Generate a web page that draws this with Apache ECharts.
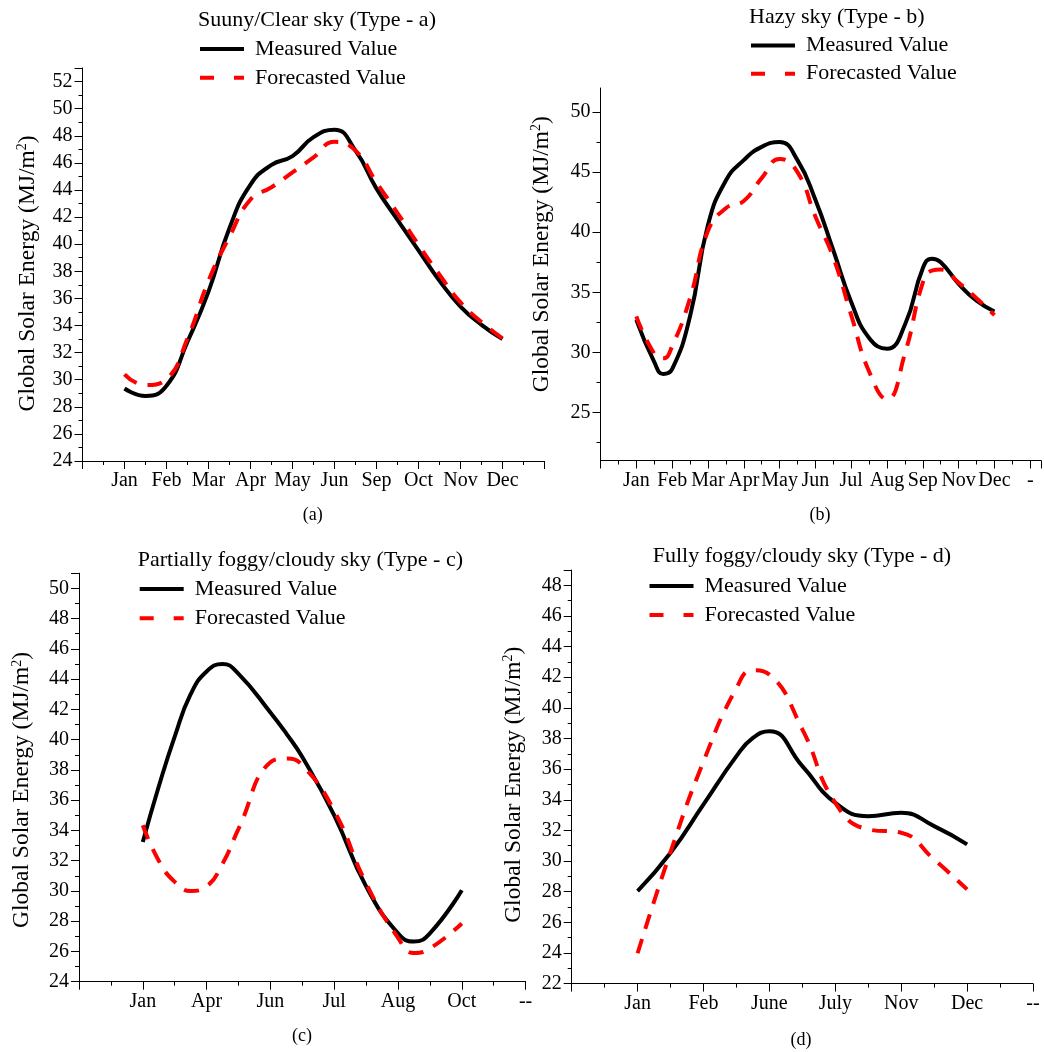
<!DOCTYPE html>
<html>
<head>
<meta charset="utf-8">
<script src="https://cdn.jsdelivr.net/npm/echarts@6/dist/echarts.min.js"></script>
<style>html,body{margin:0;padding:0;background:#fff}#chart{width:1044px;height:1052px}</style>
</head>
<body>
<div id="chart"></div>
<script>
// ---- (a) Sunny / clear sky ----
const ticksA = ['', 'Jan', 'Feb', 'Mar', 'Apr', 'May', 'Jun', 'Sep', 'Oct', 'Nov', 'Dec'];
const posA = [1, 1.5, 2, 2.5, 3, 3.5, 4, 4.5, 5, 5.5, 6, 6.5, 7, 7.5, 8, 8.5, 9, 9.5, 10];
const measuredA = [29.35, 28.8, 29.55, 32.8, 36.5, 41.2, 44.4, 45.85, 46.5, 47.9, 48.45, 46.9, 44.1, 41.8, 39.55, 37.3, 35.4, 34.05, 33.0];
const forecastA = [30.4, 29.6, 30.05, 33.05, 37.3, 40.55, 43.3, 44.2, 45.3, 46.4, 47.55, 46.9, 44.55, 42.3, 39.95, 37.75, 35.7, 34.25, 33.05];

// ---- (b) Hazy sky ----
const ticksB = ['', 'Jan', 'Feb', 'Mar', 'Apr', 'May', 'Jun', 'Jul', 'Aug', 'Sep', 'Nov', 'Dec', '-'];
const posB = [1, 1.5, 1.75, 2, 2.5, 3, 3.5, 4, 4.5, 5, 5.5, 6, 6.5, 7, 7.5, 8, 8.5, 9, 9.25, 9.5, 10, 10.5, 11];
const measuredB = [32.7, 29.2, 28.2, 28.6, 33.0, 40.6, 44.3, 46.0, 47.1, 47.5, 46.0, 42.7, 38.5, 34.2, 31.2, 30.3, 32.3, 37.0, 37.8, 37.5, 35.7, 34.3, 33.4];
const forecastB = [33.0, 29.9, 29.5, 30.5, 34.5, 40.1, 42.0, 42.6, 44.5, 46.1, 45.0, 41.3, 37.9, 33.1, 28.4, 26.1, 29.9, 35.8, 36.8, 36.9, 35.8, 34.5, 33.1];
const yLabelsB = [25, 30, 35, 40, 45, 50];
const yMinorB = [22.5, 27.5, 32.5, 37.5, 42.5, 47.5];

// ---- (c) Partially foggy / cloudy sky ----
const ticksC = ['', 'Jan', 'Apr', 'Jun', 'Jul', 'Aug', 'Oct', '--'];
const posC = [1, 1.25, 1.5, 1.75, 2, 2.25, 2.5, 3, 3.25, 3.5, 4, 4.5, 5, 5.25, 5.5, 6];
const measuredC = [33.24, 36.9, 40.2, 43.0, 44.5, 45.0, 44.35, 41.8, 40.4, 38.85, 35.0, 30.3, 27.2, 26.65, 27.2, 30.05];
const forecastC = [34.34, 32.0, 30.6, 30.0, 30.3, 31.8, 34.1, 38.5, 38.75, 38.3, 35.3, 30.5, 26.9, 25.9, 26.2, 27.85];

// ---- (d) Fully foggy / cloudy sky ----
const ticksD = ['', 'Jan', 'Feb', 'June', 'July', 'Nov', 'Dec', '--'];
const posD = [1, 1.5, 2, 2.5, 2.75, 3, 3.5, 4, 4.5, 5, 5.5, 6];
const measuredD = [28.04, 30.54, 33.7, 36.85, 38.04, 38.48, 36.2, 33.8, 32.93, 33.15, 32.28, 31.09];
const forecastD = [23.98, 30.6, 36.5, 41.3, 42.46, 42.17, 38.6, 33.8, 32.07, 31.85, 30.1, 28.15];

const titles = ['Suuny/Clear sky (Type - a)', 'Hazy sky (Type - b)', 'Partially foggy/cloudy sky (Type - c)', 'Fully foggy/cloudy sky (Type - d)'];
const captions = ['(a)', '(b)', '(c)', '(d)'];
const MEASURED = 'Measured Value';
const FORECAST = 'Forecasted Value';
const Y_NAME = 'Global Solar Energy (MJ/m{sup|2})';

const FONT = "'Liberation Serif','Times New Roman',serif";
const INK = '#000';

// layout of the four panels
const panels = [
  { ticks: ticksA, pos: posA, m: measuredA, f: forecastA,
    grid: { left: 82.5, top: 68, width: 462, height: 393 }, xMax: 11, yMin: 24, yMax: 53,
    title: { left: 198, top: 9 }, legend: { left: 198, top: 37, gap: 4.8 },
    caption: [312.7, 515.6], nameGap: 43, namePad: [0, 18, 0, 0] },
  { ticks: ticksB, pos: posB, m: measuredB, f: forecastB,
    grid: { left: 600.5, top: 88, width: 450.2, height: 372.5 }, xMax: 12.3, yMin: 21, yMax: 52,
    title: { left: 749, top: 6 }, legend: { left: 749, top: 33.6, gap: 4.1 },
    caption: [820, 515.6], nameGap: 47, namePad: [0, 0, 0, 40], custom: true },
  { ticks: ticksC, pos: posC, m: measuredC, f: forecastC,
    grid: { left: 79, top: 573.2, width: 446.6, height: 408.5 }, xMax: 7, yMin: 24, yMax: 51,
    title: { left: 137.7, top: 549 }, legend: { left: 137.7, top: 577, gap: 5.3 },
    caption: [302, 1036.7], nameGap: 45, namePad: [0, 25, 0, 0] },
  { ticks: ticksD, pos: posD, m: measuredD, f: forecastD,
    grid: { left: 571.7, top: 570, width: 461.3, height: 413.6 }, xMax: 7, yMin: 22, yMax: 49,
    title: { left: 652.7, top: 545.7 }, legend: { left: 647.5, top: 574, gap: 5 },
    caption: [801, 1040], nameGap: 46, namePad: [0, 16, 0, 0] }
];

const axisLine = { show: true, onZero: false, lineStyle: { color: INK, width: 1 } };
const labelStyle = { fontSize: 20, fontFamily: FONT, color: INK };

const option = {
  backgroundColor: '#fff',
  animation: false,
  title: [], legend: [], grid: [], xAxis: [], yAxis: [], series: [], graphic: []
};

panels.forEach((p, i) => {
  option.grid.push(Object.assign({ containLabel: false }, p.grid));

  option.title.push({
    text: titles[i], left: p.title.left, top: p.title.top, padding: 0,
    textStyle: { fontSize: 22, fontWeight: 'normal', fontFamily: FONT, color: INK }
  });

  option.legend.push({
    left: p.legend.left, top: p.legend.top, orient: 'vertical', padding: 0,
    itemWidth: 44, itemHeight: 12, itemGap: p.legend.gap,
    itemStyle: { opacity: 0 },
    textStyle: { fontSize: 22, fontFamily: FONT, color: INK, lineHeight: 24, padding: [0, 0, 0, 6] },
    data: [
      { name: MEASURED, itemStyle: { opacity: 0 }, lineStyle: { width: 4, color: '#000', type: 'solid' } },
      { name: FORECAST, itemStyle: { opacity: 0 }, lineStyle: { type: [14, 20], width: 4, color: '#ff0000' } }
    ]
  });

  option.xAxis.push({
    gridIndex: i, type: 'value', min: 0, max: p.xMax, interval: 1,
    axisLine,
    axisTick: { show: true, length: 8, lineStyle: { color: INK } },
    minorTick: { show: true, splitNumber: 2, length: 4, lineStyle: { color: INK } },
    splitLine: { show: false }, minorSplitLine: { show: false },
    axisLabel: Object.assign({ margin: 10, showMinLabel: true, showMaxLabel: true,
      formatter: v => (Number.isInteger(v) && p.ticks[v]) ? p.ticks[v] : '' }, labelStyle)
  });

  const yName = {
    name: Y_NAME, nameLocation: 'middle', nameRotate: 90, nameGap: p.nameGap,
    nameTextStyle: {
      fontSize: 23.5, fontFamily: FONT, color: INK, padding: p.namePad,
      rich: { sup: { fontSize: 14, fontFamily: FONT, color: INK, verticalAlign: 'top', lineHeight: 12 } }
    }
  };

  if (!p.custom) {
    option.yAxis.push(Object.assign({
      gridIndex: i, type: 'value', min: p.yMin, max: p.yMax, interval: 2,
      axisLine,
      axisTick: { show: true, length: 8, lineStyle: { color: INK } },
      minorTick: { show: true, splitNumber: 2, length: 4, lineStyle: { color: INK } },
      splitLine: { show: false }, minorSplitLine: { show: false },
      axisLabel: Object.assign({ margin: 10, formatter: v => (v % 2 === 0 ? String(v) : '') }, labelStyle)
    }, yName));
  } else {
    option.yAxis.push(Object.assign({
      gridIndex: i, type: 'value', min: p.yMin, max: p.yMax,
      axisLine,
      axisTick: { show: true, length: 8, customValues: yLabelsB, lineStyle: { color: INK } },
      splitLine: { show: false },
      axisLabel: Object.assign({ margin: 10, customValues: yLabelsB }, labelStyle)
    }, yName));
  }
  const yIndex = option.yAxis.length - 1;
  if (p.custom) {
    // short ticks half-way between the labelled values
    option.yAxis.push({
      gridIndex: i, type: 'value', min: p.yMin, max: p.yMax, position: 'left',
      axisLine: { show: false },
      axisTick: { show: true, length: 4, customValues: yMinorB, lineStyle: { color: INK } },
      axisLabel: { show: false }, splitLine: { show: false }
    });
  }

  const common = { type: 'line', xAxisIndex: i, yAxisIndex: yIndex, smooth: 0.5,
    symbol: 'none', showSymbol: false, silent: true };
  option.series.push(Object.assign({}, common, {
    name: MEASURED, data: p.pos.map((x, k) => [x, p.m[k]]),
    lineStyle: { color: '#000', width: 4 }, itemStyle: { color: '#000' }, z: 2
  }));
  option.series.push(Object.assign({}, common, {
    name: FORECAST, data: p.pos.map((x, k) => [x, p.f[k]]),
    lineStyle: { color: '#ff0000', width: 4, type: [15, 11] }, itemStyle: { color: '#ff0000' }, z: 3
  }));

  option.graphic.push({
    type: 'text', x: p.caption[0], y: p.caption[1], silent: true,
    style: { text: captions[i], font: '18px ' + FONT, fill: INK, align: 'center', verticalAlign: 'middle' }
  });
});

const chart = echarts.init(document.getElementById('chart'), null, { renderer: 'canvas' });
chart.setOption(option);
</script>
</body>
</html>
